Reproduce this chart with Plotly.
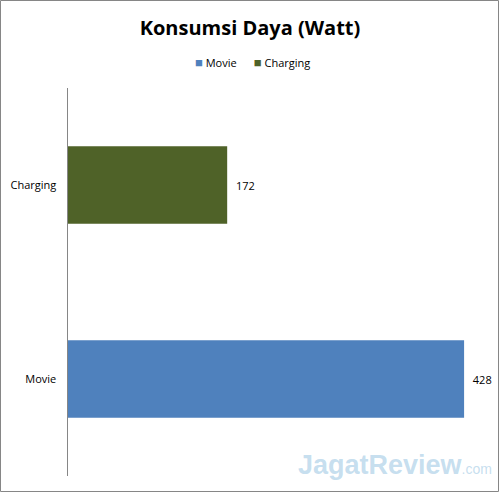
import plotly.graph_objects as go

categories = ["Movie", "Charging"]
values = [428, 172]
colors = ["#4F81BD", "#4F6228"]

fig = go.Figure()
for cat, val, col in zip(categories, values, colors):
    fig.add_trace(go.Bar(
        x=[val], y=[cat], orientation="h", name=cat,
        marker=dict(color=col, line=dict(width=0)),
        width=0.4,
        text=["  " + str(val)], textposition="outside",
        textfont=dict(size=11, color="#000000", family="Open Sans"),
        cliponaxis=False,
    ))

fig.update_layout(
    width=500, height=492,
    margin=dict(l=68, r=10, t=88, b=16, autoexpand=False),
    paper_bgcolor="white", plot_bgcolor="white",
    barmode="overlay",
    showlegend=False,
    title=dict(text="<b>Konsumsi Daya (Watt)</b>", x=0.5, xanchor="center",
               y=1 - 28 / 492, yanchor="middle", yref="container",
               font=dict(size=20, color="#000000", family="Open Sans")),
    font=dict(family="Open Sans", size=11, color="#000000"),
)
fig.update_xaxes(range=[0, 456], visible=False, showgrid=False, zeroline=False, automargin=False)
fig.update_yaxes(categoryorder="array", categoryarray=categories,
                 showline=True, linecolor="#868686", linewidth=1, automargin=False,
                 ticks="", showgrid=False, ticksuffix="   ",
                 tickfont=dict(size=11, color="#000000", family="Open Sans"))

# legend drawn as text
legend_text = "&nbsp;&nbsp;&nbsp;&nbsp;&nbsp;&nbsp;".join(
    f"<span style='color:{c};font-size:13px'>■</span>&nbsp;{n}" for n, c in zip(categories, colors))
fig.add_annotation(text=legend_text, xref="paper", yref="paper",
                   x=(252 - 68) / 422, y=1 + 26 / 388, xanchor="center", yanchor="middle",
                   showarrow=False, font=dict(size=11, color="#000000", family="Open Sans"))

fig.add_annotation(text="<b>Jagat</b><b>Review</b><span style='font-size:14px'>.com</span>",
                   xref="paper", yref="paper",
                   x=1 + 4 / 422, y=-0.015, xanchor="right", yanchor="bottom",
                   showarrow=False,
                   font=dict(size=27, color="rgba(150,195,225,0.55)", family="Liberation Sans"))

fig.add_shape(type="rect", xref="paper", yref="paper", x0=-67.5 / 422, x1=1 + 8.5 / 422,
              y0=-15.5 / 388, y1=1 + 87.5 / 388, line=dict(color="#868686", width=1))

fig.write_html("out.html", config={"displayModeBar": False},
               post_script="document.body.style.margin='0';document.body.style.overflow='hidden';")
